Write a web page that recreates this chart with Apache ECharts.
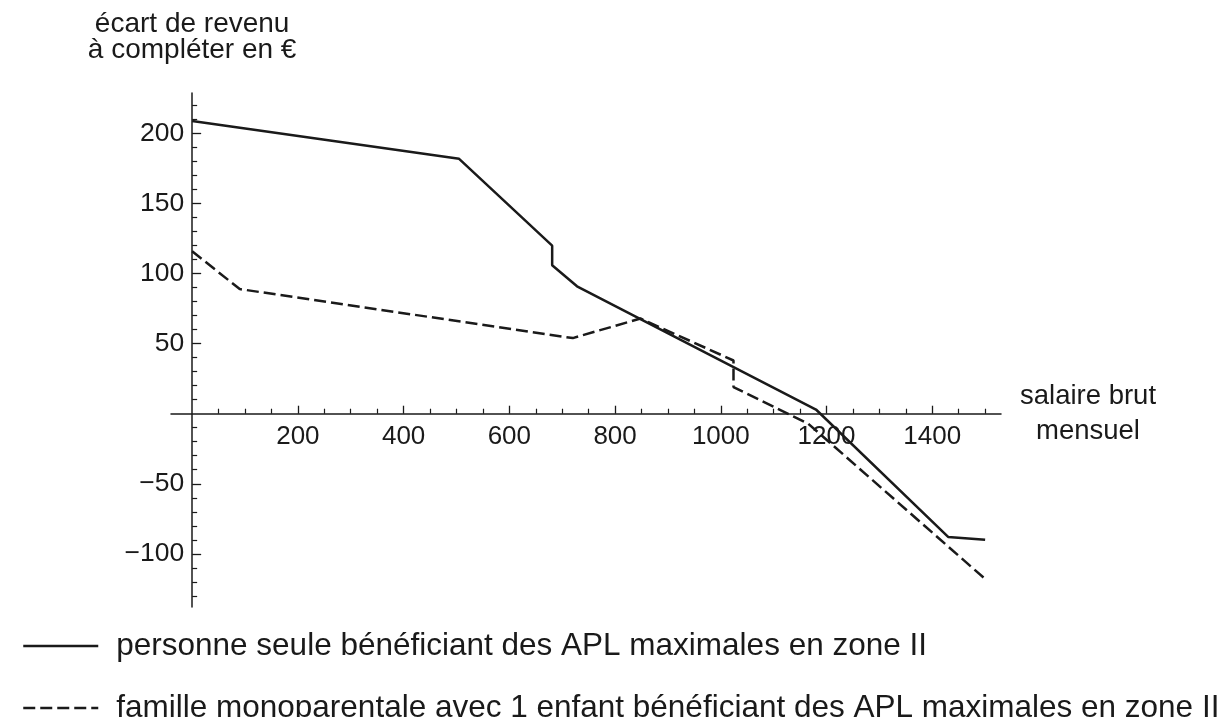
<!DOCTYPE html>
<html><head><meta charset="utf-8">
<script src="https://cdn.jsdelivr.net/npm/echarts@6/dist/echarts.min.js"></script>
<style>html,body{margin:0;padding:0;background:#fff}#c{width:1229px;height:717px}</style>
</head><body><div id="c"></div>
<script>
const seriesNames = [
  'personne seule bénéficiant des APL maximales en zone II',
  'famille monoparentale avec 1 enfant bénéficiant des APL maximales en zone II'
];
const salaireSeul = [0, 505, 681, 681, 728, 1180, 1430, 1500];
const ecartSeul = [209, 182, 120, 106, 91, 3, -88, -90];
const salaireFamille = [0, 90, 720, 848, 1024, 1024, 1165, 1500];
const ecartFamille = [116, 89, 54, 68, 38, 19, -7, -118];
const xMajorTicks = [200, 400, 600, 800, 1000, 1200, 1400];
const xMinorTicks = [50, 100, 150, 250, 300, 350, 450, 500, 550, 650, 700, 750, 850, 900, 950, 1050, 1100, 1150, 1250, 1300, 1350, 1450, 1500];
const yMajorTicks = [-100, -50, 50, 100, 150, 200];
const yMinorTicks = [-130, -120, -110, -90, -80, -70, -60, -40, -30, -20, -10, 10, 20, 30, 40, 60, 70, 80, 90, 110, 120, 130, 140, 160, 170, 180, 190, 210, 220];
const xTitle = 'salaire brut\nmensuel';
const yTitle = 'écart de revenu\nà compléter en €';

const FONT = '"Liberation Sans", Arial, Helvetica, sans-serif';
const INK = '#1a1a1a';
const pairs = (xs, ys) => xs.map((x, i) => [x, ys[i]]);
const X_MIN = -40, X_MAX = 1530, Y_MIN = -138, Y_MAX = 229;
const G = {left: 171, top: 93, width: 830, height: 514};
// shift axes from the grid edges onto the zero lines (axes cross at the origin)
const yAxisOffset = -(G.width * (0 - X_MIN) / (X_MAX - X_MIN));
const xAxisOffset = -(G.height * (0 - Y_MIN) / (Y_MAX - Y_MIN));

const chart = echarts.init(document.getElementById('c'), null, {renderer: 'canvas'});
chart.setOption({
  animation: false,
  backgroundColor: '#ffffff',
  grid: Object.assign({outerBoundsMode: 'none', containLabel: false}, G),
  legend: {
    orient: 'vertical', left: 22, top: 630, height: 100, padding: 0,
    itemWidth: 75, itemHeight: 14, itemGap: 30,
    data: seriesNames,
    itemStyle: {opacity: 0},
    lineStyle: {width: 2.5},
    textStyle: {fontFamily: FONT, fontSize: 31.5, color: INK, lineHeight: 28, padding: [0, 0, 0, 13]}
  },
  xAxis: [{
    type: 'value', min: X_MIN, max: X_MAX, position: 'bottom', offset: xAxisOffset,
    axisLine: {show: true, onZero: false, lineStyle: {color: INK, width: 1.5}},
    axisTick: {show: true, inside: true, length: 8, customValues: xMajorTicks, lineStyle: {color: INK, width: 1.3}},
    axisLabel: {show: true, customValues: xMajorTicks, margin: 10, fontFamily: FONT, fontSize: 26, color: INK,
      formatter: v => String(v)},
    splitLine: {show: false},
    name: xTitle, nameLocation: 'end', nameGap: 87,
    nameTextStyle: {fontFamily: FONT, fontSize: 27.5, color: INK, align: 'center', lineHeight: 35}
  }, {
    type: 'value', min: X_MIN, max: X_MAX, position: 'bottom', offset: xAxisOffset,
    axisLine: {show: false, onZero: false},
    axisTick: {show: true, inside: true, length: 5, customValues: xMinorTicks, lineStyle: {color: INK, width: 1.2}},
    axisLabel: {show: false},
    splitLine: {show: false}
  }],
  yAxis: [{
    type: 'value', min: Y_MIN, max: Y_MAX, position: 'left', offset: yAxisOffset,
    axisLine: {show: true, onZero: false, lineStyle: {color: INK, width: 1.5}},
    axisTick: {show: true, inside: true, length: 9, customValues: yMajorTicks, lineStyle: {color: INK, width: 1.3}},
    axisLabel: {show: true, customValues: yMajorTicks, margin: 8, fontFamily: FONT, fontSize: 26.5, color: INK,
      formatter: v => (v < 0 ? '\u2212' + Math.abs(v) : String(v))},
    splitLine: {show: false},
    name: yTitle, nameLocation: 'end', nameGap: 30,
    nameTextStyle: {fontFamily: FONT, fontSize: 28, color: INK, align: 'center', lineHeight: 26}
  }, {
    type: 'value', min: Y_MIN, max: Y_MAX, position: 'left', offset: yAxisOffset,
    axisLine: {show: false, onZero: false},
    axisTick: {show: true, inside: true, length: 5, customValues: yMinorTicks, lineStyle: {color: INK, width: 1.2}},
    axisLabel: {show: false},
    splitLine: {show: false}
  }],
  series: [{
    name: seriesNames[0], type: 'line', xAxisIndex: 0, yAxisIndex: 0,
    data: pairs(salaireSeul, ecartSeul), symbol: 'none', smooth: false,
    lineStyle: {color: INK, width: 2.5, type: 'solid'}, itemStyle: {color: INK}
  }, {
    name: seriesNames[1], type: 'line', xAxisIndex: 0, yAxisIndex: 0,
    data: pairs(salaireFamille, ecartFamille), symbol: 'none', smooth: false,
    lineStyle: {color: INK, width: 2.5, type: [12, 5]}, itemStyle: {color: INK}
  }]
});
</script></body></html>
